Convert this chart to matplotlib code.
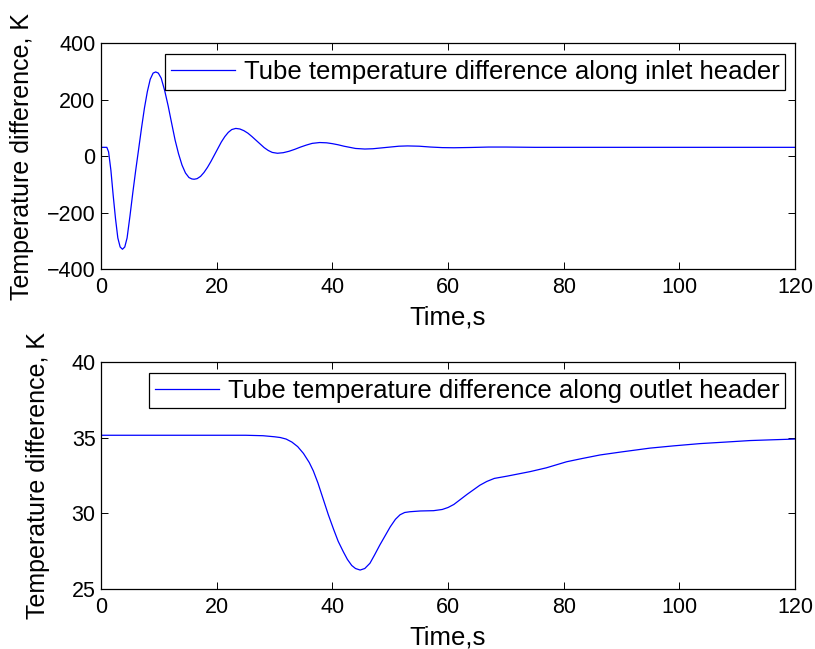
import numpy as np
import matplotlib
matplotlib.use("Agg")
import matplotlib.pyplot as plt

plt.rcParams['font.family'] = ['Liberation Sans', 'DejaVu Sans']

# inlet header: values
t_in = [0, 1.0, 1.3, 1.7, 2.1, 2.5, 2.9, 3.3, 3.7, 4.1, 4.5, 5.0, 5.5, 6.0, 6.5,
        7.0, 7.5, 8.0, 8.5, 9.0, 9.45, 9.9, 10.4, 11.0, 11.6, 12.2, 12.8, 13.4,
        14.0, 14.6, 15.2, 15.7, 16.1, 16.6, 17.2, 17.8, 18.4, 19.0, 19.6, 20.2,
        20.8, 21.4, 22.0, 22.6, 23.3, 24.0, 24.7, 25.4, 26.1, 26.8, 27.5, 28.2,
        28.9, 29.6, 30.5, 31.5, 32.5, 33.5, 34.5, 35.5, 36.5, 37.8, 39, 40, 41,
        42, 43, 44, 45.6, 47, 48.5, 50, 51.5, 53, 55, 57, 59, 61, 64, 67, 70,
        75, 80, 90, 100, 120]
dT_in = [31, 31, 15, -50, -140, -222, -290, -322, -330, -322, -290, -212, -128,
         -49, 25, 100, 170, 228, 272, 294, 298, 294, 276, 232, 178, 117, 57, 8,
         -32, -60, -76, -81, -82, -80, -72, -58, -40, -19, 4, 27, 50, 69, 84, 94,
         98, 96, 90, 81, 69, 56, 43, 30, 20, 13, 10, 12, 17, 24, 32, 39, 45, 48,
         47, 44, 40, 35, 31, 27, 25, 26, 29, 32, 35, 36, 35, 32, 30, 29.5, 30.5,
         32, 32, 31, 31, 31, 31, 31]

# outlet header
t_out = [0, 25, 28, 30, 31, 32, 33, 34, 35, 36, 36.7, 37.5, 38.4, 39.3, 40.2, 41,
         41.9, 42.6, 43.35, 44, 44.8, 45.6, 46.5, 47.3, 48.2, 49.1, 50, 50.9,
         51.7, 52.5, 53.4, 55.2, 57.5, 59, 60, 61, 62.1, 63.3, 64.4, 65.5, 66.7,
         68, 70.2, 74.2, 77, 80.5, 83, 86.3, 90, 94.9, 99, 103.6, 108, 112.2,
         116, 120]
dT_out = [35.15, 35.15, 35.12, 35.05, 35.0, 34.9, 34.7, 34.4, 33.95, 33.35, 32.8,
          32.0, 30.95, 29.9, 28.95, 28.15, 27.45, 26.95, 26.55, 26.35, 26.25,
          26.35, 26.7, 27.25, 27.9, 28.5, 29.1, 29.6, 29.9, 30.05, 30.1, 30.15,
          30.17, 30.25, 30.38, 30.58, 30.9, 31.25, 31.55, 31.85, 32.1, 32.3, 32.45,
          32.75, 33.0, 33.4, 33.6, 33.85, 34.05, 34.3, 34.45, 34.6, 34.7, 34.8,
          34.85, 34.9]

xticks = [0, 20, 40, 60, 80, 100, 120]
yticks_in = [-400, -200, 0, 200, 400]
yticks_out = [25, 30, 35, 40]

fig = plt.figure(figsize=(8.15, 6.49), dpi=100)
ax1 = fig.add_axes([0.124, 0.5855, 0.8515, 0.348])
ax2 = fig.add_axes([0.124, 0.0925, 0.8515, 0.35])

panels = [
    (ax1, t_in, dT_in, yticks_in, 'Tube temperature difference along inlet header', -0.097),
    (ax2, t_out, dT_out, yticks_out, 'Tube temperature difference along outlet header', -0.074),
]

for ax, t, v, yt, lab, ylx in panels:
    ax.plot(t, v, color='#0000ff', lw=0.9, label=lab)
    ax.set_xlim(0, 120)
    ax.set_ylim(yt[0], yt[-1])
    ax.set_xticks(xticks)
    ax.set_yticks(yt)
    ax.tick_params(direction='in', length=5, width=0.7, top=True, right=True,
                   labelsize=15.5)
    ax.tick_params(axis='x', pad=6)
    ax.tick_params(axis='y', pad=4)
    for s in ax.spines.values():
        s.set_linewidth(0.9)
    ax.set_xlabel('Time,s', fontsize=18.5, labelpad=5)
    ax.set_ylabel('Temperature difference, K', fontsize=18)
    ax.yaxis.set_label_coords(ylx, 0.5)
    leg = ax.legend(loc='upper right', bbox_to_anchor=(0.986, 0.951),
                    borderaxespad=0, fontsize=18.5, handlelength=2.5,
                    handletextpad=0.35, borderpad=0.22, fancybox=False,
                    framealpha=1, edgecolor='black')
    leg.get_frame().set_linewidth(0.9)

# minus sign like the original
ax1.set_yticklabels(['\u2212400', '\u2212200', '0', '200', '400'])

fig.savefig('out.png', dpi=100, facecolor='white')
